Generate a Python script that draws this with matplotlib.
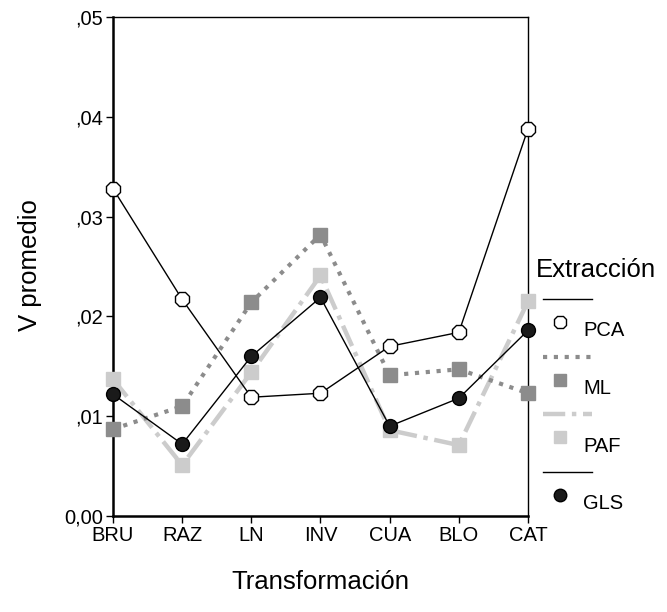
import matplotlib
matplotlib.use("Agg")
import matplotlib.pyplot as plt
from matplotlib.lines import Line2D
from matplotlib.ticker import FixedLocator

plt.rcParams['font.family'] = ['Liberation Sans', 'DejaVu Sans']

categories = ["BRU", "RAZ", "LN", "INV", "CUA", "BLO", "CAT"]
pca = [0.0328, 0.0217, 0.0119, 0.0123, 0.0170, 0.0184, 0.0388]
ml = [0.0087, 0.0110, 0.0214, 0.0282, 0.0141, 0.0147, 0.0123]
paf = [0.0137, 0.0051, 0.0144, 0.0241, 0.0086, 0.0071, 0.0215]
gls = [0.0122, 0.0072, 0.0160, 0.0219, 0.0090, 0.0118, 0.0186]
yticks = [0.0, 0.01, 0.02, 0.03, 0.04, 0.05]
ytick_labels = ["0,00", ",01", ",02", ",03", ",04", ",05"]

W, H = 667, 612
fig = plt.figure(figsize=(W / 100, H / 100), dpi=100)
ax = fig.add_axes([113 / W, 1 - 516 / H, (528 - 113) / W, (516 - 17) / H])

x = range(len(categories))
series = [
    ("PAF", paf, dict(color="#cccccc", lw=3.2, ls=(0, (5, 1.5, 1, 1.5)), marker="s", ms=9.5,
                      mfc="#cccccc", mec="#cccccc")),
    ("ML", ml, dict(color="#8c8c8c", lw=3.0, ls=(0, (1, 1.6)), marker="s", ms=9.5,
                    mfc="#8c8c8c", mec="#8c8c8c")),
    ("PCA", pca, dict(color="black", lw=1.0, ls="-", marker="8", ms=11,
                      mfc="white", mec="black", mew=1.0)),
    ("GLS", gls, dict(color="black", lw=1.0, ls="-", marker="o", ms=10,
                      mfc="#1a1a1a", mec="black", mew=1.0)),
]
for name, vals, st in series:
    ax.plot(x, vals, clip_on=False, zorder=3, **st)

ax.set_xlim(0, len(categories) - 1)
ax.set_ylim(0, 0.05)
ax.set_xticks(list(x))
ax.set_xticklabels(categories, fontsize=14.5)
ax.yaxis.set_major_locator(FixedLocator(yticks))
ax.set_yticklabels(ytick_labels, fontsize=14.5)
ax.tick_params(direction="out", length=5, width=1, pad=2)

for side in ["left", "bottom"]:
    ax.spines[side].set_linewidth(1.8)
for side in ["top", "right"]:
    ax.spines[side].set_linewidth(1.0)

fig.text(30 / W, 1 - 265 / H, "V promedio", rotation=90, fontsize=18.5,
         ha="center", va="center")
fig.text(320 / W, 1 - 582 / H, "Transformación", fontsize=18.5,
         ha="center", va="center")

# legend drawn by hand: line on top, marker and label below
fig.text(536 / W, 1 - 270 / H, "Extracción", fontsize=18.5, ha="left", va="center")
order = ["PCA", "ML", "PAF", "GLS"]
styles = {name: st for name, _, st in series}
for i, name in enumerate(order):
    st = styles[name]
    ly = 299 + i * 57.6
    fig.add_artist(Line2D([543 / W, 592 / W], [1 - ly / H, 1 - ly / H],
                          transform=fig.transFigure, color=st["color"],
                          lw=st["lw"], ls=st["ls"]))
    my = ly + 23
    fig.add_artist(Line2D([560 / W], [1 - my / H], transform=fig.transFigure,
                          ls="none", marker=st["marker"], ms=st["ms"] - 1,
                          mfc=st["mfc"], mec=st["mec"]))
    fig.text(583 / W, 1 - (my + 9) / H, name, fontsize=14.5, ha="left", va="center")

fig.savefig("out.png", dpi=100)
